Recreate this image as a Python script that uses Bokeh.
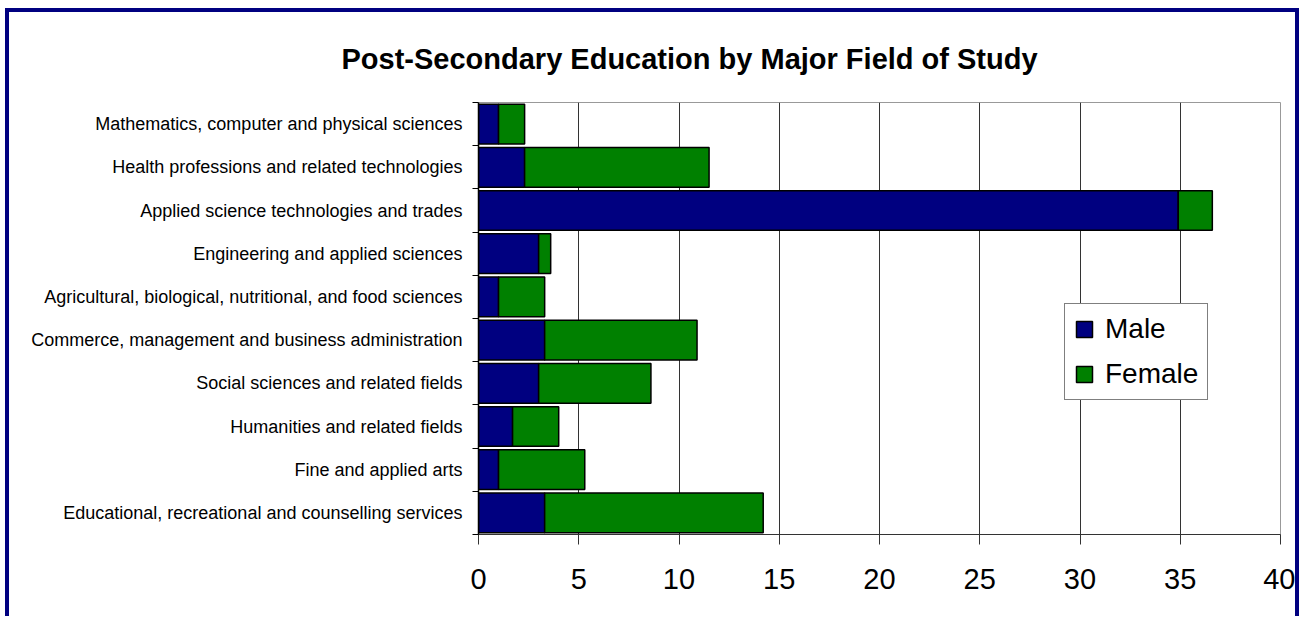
from bokeh.plotting import figure
from bokeh.models import ColumnDataSource, FixedTicker, Legend, LegendItem
from bokeh.embed import file_html
from bokeh.resources import INLINE

# ---- data (top to bottom as shown) ----
categories = [
    "Mathematics, computer and physical sciences",
    "Health professions and related technologies",
    "Applied science technologies and trades",
    "Engineering and applied sciences",
    "Agricultural, biological, nutritional, and food sciences",
    "Commerce, management and business administration",
    "Social sciences and related fields",
    "Humanities and related fields",
    "Fine and applied arts",
    "Educational, recreational and counselling services",
]
male = [1.0, 2.3, 34.9, 3.0, 1.0, 3.3, 3.0, 1.7, 1.0, 3.3]
female = [1.3, 9.2, 1.7, 0.6, 2.3, 7.6, 5.6, 2.3, 4.3, 10.9]
x_ticks = [0, 5, 10, 15, 20, 25, 30, 35, 40]
title_text = "Post-Secondary Education by Major Field of Study"

n = len(categories)
ypos = [n - 0.5 - i for i in range(n)]
total = [m + f for m, f in zip(male, female)]
src = ColumnDataSource(dict(y=ypos, male=male, female=female, total=total))

FONT = "Liberation Sans"

p = figure(width=1294, height=608, x_range=(0, 40), y_range=(0, n),
           output_backend="svg", toolbar_location=None,
           min_border_left=469, min_border_right=23,
           min_border_top=90, min_border_bottom=86)
p.styles = {"margin-left": "5px", "margin-top": "8px",
            "border-top": "4px solid #000080",
            "border-left": "4px solid #000080",
            "border-right": "4px solid #000080"}

r_m = p.hbar(y="y", left=0, right="male", height=0.92, source=src,
             fill_color="#000080", line_color="black", line_width=1.5)
r_f = p.hbar(y="y", left="male", right="total", height=0.92, source=src,
             fill_color="#008000", line_color="black", line_width=1.5)

# title
p.title.text = title_text
p.title.text_font = FONT
p.title.text_font_size = "29px"
p.title.text_font_style = "bold"
p.title.align = "left"
p.title.offset = -137
p.title.standoff = 55
p.title.text_color = "black"

# x axis
p.xaxis.ticker = FixedTicker(ticks=x_ticks)
p.xaxis.major_label_text_font = FONT
p.xaxis.major_label_text_font_size = "29px"
p.xaxis.major_label_text_color = "black"
p.xaxis.major_tick_out = 10
p.xaxis.major_tick_in = 0
p.xaxis.minor_tick_line_color = None
p.xaxis.axis_line_color = "#333333"
p.xaxis.major_tick_line_color = "#333333"
p.xaxis.major_label_standoff = 24

# y axis
p.yaxis.ticker = FixedTicker(ticks=ypos, minor_ticks=list(range(n + 1)))
p.yaxis.major_label_overrides = {y: c for y, c in zip(ypos, categories)}
p.yaxis.major_label_text_font = FONT
p.yaxis.major_label_text_font_size = "18px"
p.yaxis.major_label_text_color = "black"
p.yaxis.major_tick_out = 0
p.yaxis.major_tick_in = 0
p.yaxis.major_tick_line_color = None
p.yaxis.minor_tick_out = 6
p.yaxis.minor_tick_in = 0
p.yaxis.minor_tick_line_color = "black"
p.yaxis.axis_line_color = "black"
p.yaxis.axis_line_width = 1.5
p.yaxis.major_label_standoff = 10

# grid and frame
p.xgrid.grid_line_color = "#333333"
p.xgrid.grid_line_width = 1
p.ygrid.visible = False
p.outline_line_color = "#999999"
p.background_fill_color = "white"
p.border_fill_color = "white"

legend = Legend(items=[LegendItem(label="Male", renderers=[r_m]),
                       LegendItem(label="Female", renderers=[r_f])],
                location=(586, 134))
legend.label_text_font = FONT
legend.label_text_font_size = "28px"
legend.label_text_color = "black"
legend.glyph_width = 20
legend.glyph_height = 20
legend.label_standoff = 11
legend.padding = 9
legend.margin = 0
legend.spacing = 13
legend.border_line_color = "black"
legend.border_line_width = 1
legend.background_fill_color = "white"
legend.background_fill_alpha = 1
p.add_layout(legend)

open("out.html", "w").write(file_html(p, INLINE))
